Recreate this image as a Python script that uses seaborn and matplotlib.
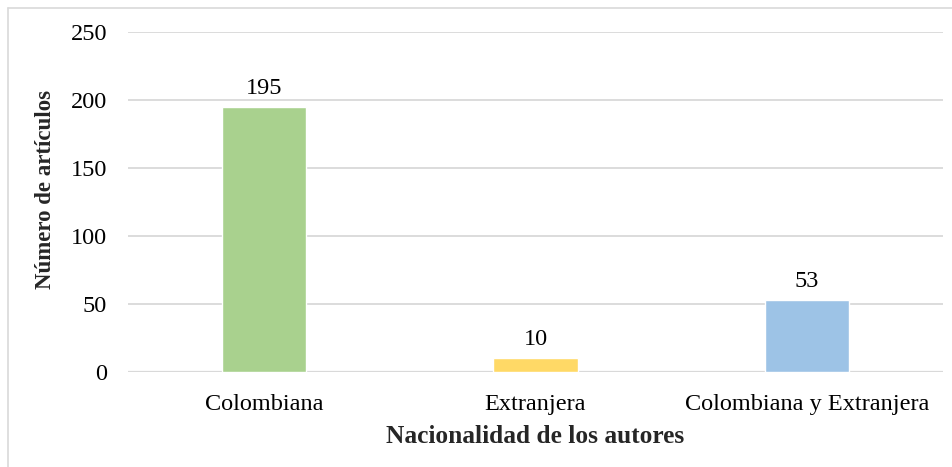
import matplotlib
matplotlib.use("Agg")
import matplotlib.pyplot as plt
import seaborn as sns
import pandas as pd
from matplotlib.lines import Line2D

categorias = ['Colombiana', 'Extranjera', 'Colombiana y Extranjera']
articulos = [195, 10, 53]
colores = ['#A9D18E', '#FFD966', '#9DC3E6']

data = pd.DataFrame({'Nacionalidad': categorias, 'Articulos': articulos})

sns.set_style('white')
plt.rcParams['font.family'] = ['Liberation Serif', 'DejaVu Serif']

fig = plt.figure(figsize=(9.52, 4.67), dpi=100)
ax = fig.add_axes([0.1345, 0.2034, 0.856, 0.728])

sns.barplot(data=data, x='Nacionalidad', y='Articulos', hue='Nacionalidad',
            palette=colores, saturation=1, width=0.31, legend=False, ax=ax, zorder=3)

for i, v in enumerate(articulos):
    ax.text(i, v + 6, str(v), ha='center', va='bottom', fontsize=17.5, color='black')

ax.set_ylim(0, 250)
ax.set_yticks([0, 50, 100, 150, 200, 250])
ax.yaxis.grid(True, color='#D9D9D9', linewidth=1.3, zorder=0)
ax.set_axisbelow(True)
for s in ax.spines.values():
    s.set_visible(False)
ax.axhline(0, color='#D9D9D9', linewidth=1.6, zorder=2)
ax.tick_params(axis='both', length=0, labelsize=17.5, labelcolor='black')
ax.tick_params(axis='y', pad=15)
ax.tick_params(axis='x', pad=16)

ax.set_xlabel('Nacionalidad de los autores', fontsize=18.3, fontweight='bold', labelpad=7)
ax.set_ylabel('Número de artículos', fontsize=16.5, fontweight='bold', labelpad=8)
ax.yaxis.set_label_coords(-0.088, 0.538)

# marco de la figura
fig.add_artist(Line2D([8/952, 8/952], [0, 1 - 8/467], color='#D9D9D9', linewidth=1.2))
fig.add_artist(Line2D([8/952, 1], [1 - 8/467, 1 - 8/467], color='#D9D9D9', linewidth=1.2))

fig.savefig('out.png', dpi=100)
